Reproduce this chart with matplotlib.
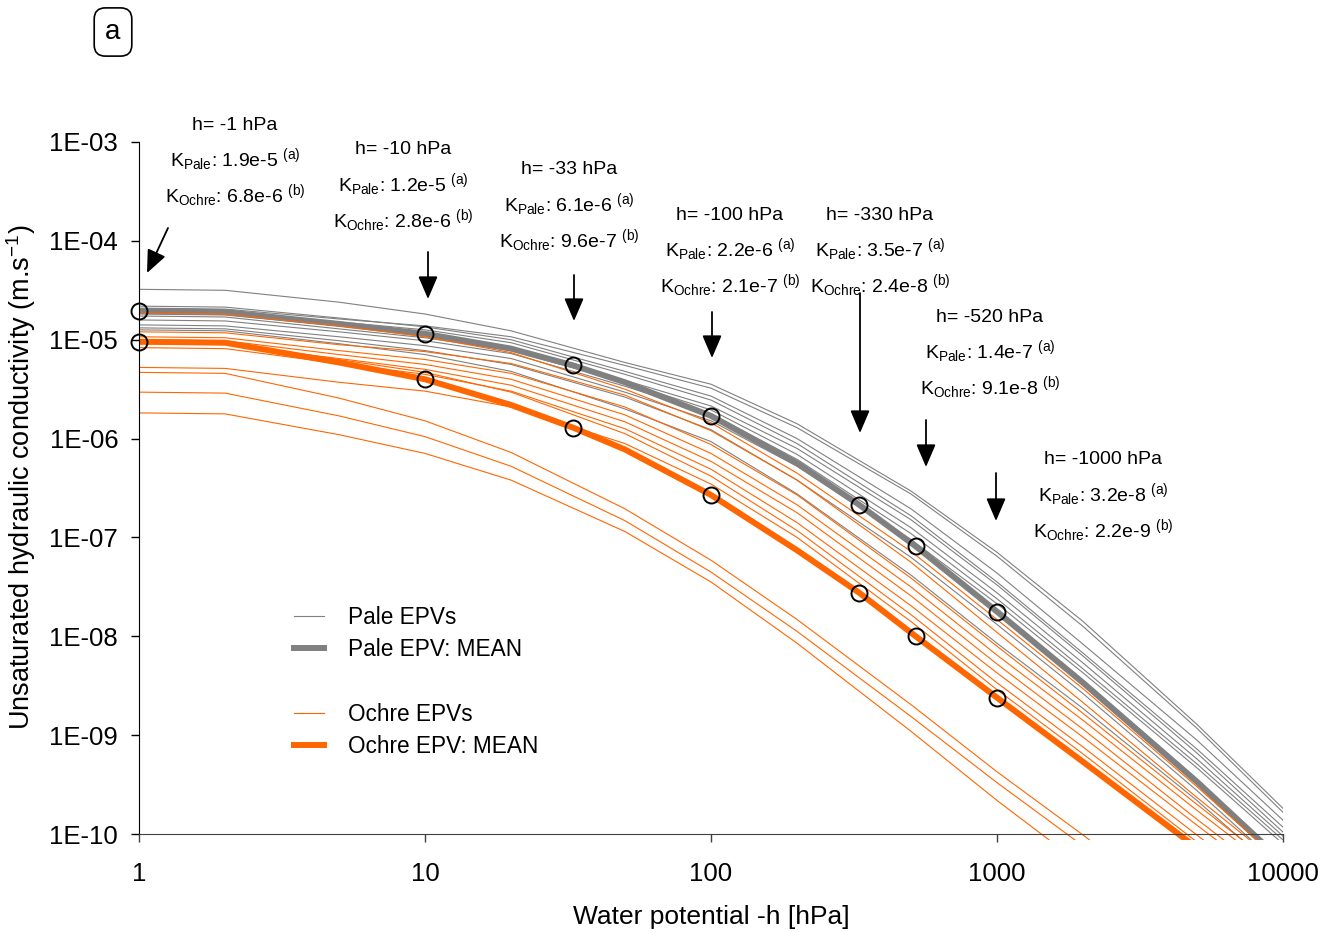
import numpy as np
import matplotlib
matplotlib.use('Agg')
import matplotlib.pyplot as plt
from matplotlib.lines import Line2D

plt.rcParams['font.family'] = ['Liberation Sans', 'DejaVu Sans']
plt.rcParams['mathtext.fontset'] = 'custom'
plt.rcParams['mathtext.rm'] = 'Liberation Sans'
plt.rcParams['mathtext.it'] = 'Liberation Sans:italic'

# water potential -h [hPa] at which the curves were read
h_grid = [1, 2, 5, 10, 20, 50, 100, 200, 500, 1000, 2000, 5000, 10000]
h_mean = [1, 2, 5, 10, 20, 33, 50, 100, 200, 330, 520, 1000, 2000, 5000, 10000]

# log10 K (m/s) of each pale EPV curve
pale_curves = [
    [-4.49, -4.50, -4.62, -4.74, -4.91, -5.23, -5.45, -5.85, -6.53, -7.15, -7.85, -8.89, -9.74],
    [-4.68, -4.69, -4.79, -4.86, -4.97, -5.26, -5.49, -5.89, -6.56, -7.19, -7.90, -8.93, -9.78],
    [-4.66, -4.67, -4.78, -4.87, -5.00, -5.32, -5.57, -6.00, -6.71, -7.36, -8.08, -9.05, -9.86],
    [-4.70, -4.71, -4.82, -4.90, -5.03, -5.35, -5.61, -6.05, -6.78, -7.45, -8.17, -9.14, -9.93],
    [-4.74, -4.75, -4.86, -4.94, -5.07, -5.41, -5.67, -6.10, -6.82, -7.48, -8.20, -9.18, -9.98],
    [-4.76, -4.77, -4.89, -4.98, -5.11, -5.43, -5.71, -6.16, -6.90, -7.56, -8.27, -9.24, -10.02],
    [-4.80, -4.81, -4.92, -5.01, -5.14, -5.47, -5.75, -6.21, -6.96, -7.62, -8.33, -9.29, -10.06],
    [-4.85, -4.86, -4.97, -5.06, -5.19, -5.53, -5.82, -6.28, -7.02, -7.67, -8.37, -9.33, -10.10],
    [-4.88, -4.89, -5.01, -5.11, -5.25, -5.58, -5.91, -6.42, -7.20, -7.88, -8.58, -9.56, -10.35],
    [-4.90, -4.91, -5.04, -5.15, -5.32, -5.70, -6.03, -6.56, -7.38, -8.07, -8.73, -9.66, -10.42],
]

# log10 K (m/s) of each ochre EPV curve
ochre_curves = [
    [-4.73, -4.74, -4.86, -4.97, -5.13, -5.50, -5.84, -6.35, -7.14, -7.83, -8.53, -9.52, -10.30],
    [-4.92, -4.93, -5.05, -5.12, -5.24, -5.56, -5.92, -6.42, -7.25, -7.96, -8.67, -9.63, -10.33],
    [-4.97, -4.98, -5.11, -5.20, -5.34, -5.68, -6.06, -6.57, -7.41, -8.10, -8.78, -9.70, -10.38],
    [-5.00, -5.01, -5.15, -5.25, -5.40, -5.76, -6.15, -6.67, -7.50, -8.19, -8.85, -9.76, -10.43],
    [-5.04, -5.05, -5.19, -5.30, -5.46, -5.83, -6.23, -6.75, -7.59, -8.28, -8.94, -9.85, -10.52],
    [-5.08, -5.09, -5.24, -5.35, -5.52, -5.90, -6.31, -6.85, -7.69, -8.37, -9.02, -9.91, -10.57],
    [-5.02, -5.03, -5.20, -5.33, -5.53, -5.95, -6.38, -6.93, -7.78, -8.47, -9.12, -10.01, -10.68],
    [-5.28, -5.29, -5.43, -5.52, -5.68, -6.05, -6.46, -7.00, -7.85, -8.54, -9.19, -10.08, -10.74],
    [-5.33, -5.34, -5.59, -5.82, -6.14, -6.71, -7.23, -7.83, -8.69, -9.37, -10.01, -10.90, -11.56],
    [-5.53, -5.54, -5.77, -5.98, -6.28, -6.83, -7.35, -7.95, -8.81, -9.48, -10.12, -11.01, -11.67],
    [-5.74, -5.75, -5.96, -6.15, -6.42, -6.94, -7.45, -8.07, -8.96, -9.66, -10.32, -11.22, -11.88],
]

pale_mean = [-4.71, -4.72, -4.84, -4.94, -5.09, -5.26, -5.43, -5.77, -6.25, -6.67, -7.09, -7.75, -8.47, -9.47, -10.28]
ochre_mean = [-5.02, -5.03, -5.23, -5.40, -5.66, -5.89, -6.11, -6.57, -7.13, -7.56, -8.00, -8.62, -9.27, -10.14, -10.80]

# potentials marked with circles and annotated
h_marks = [1, 10, 33, 100, 330, 520, 1000]
k_pale_txt = ['1.9e-5', '1.2e-5', '6.1e-6', '2.2e-6', '3.5e-7', '1.4e-7', '3.2e-8']
k_ochre_txt = ['6.8e-6', '2.8e-6', '9.6e-7', '2.1e-7', '2.4e-8', '9.1e-8', '2.2e-9']

y_ticks = [1e-3, 1e-4, 1e-5, 1e-6, 1e-7, 1e-8, 1e-9, 1e-10]
y_tick_labels = ['1E-03', '1E-04', '1E-05', '1E-06', '1E-07', '1E-08', '1E-09', '1E-10']
x_ticks = [1, 10, 100, 1000, 10000]
x_tick_labels = ['1', '10', '100', '1000', '10000']

GRAY = '#808080'
ORANGE = '#ff6600'
W, H = 1332, 932


def fp(x, y):
    """pixel position in the picture -> figure fraction"""
    return (x / W, 1 - y / H)


fig = plt.figure(figsize=(W / 100, H / 100), dpi=100)
ax = fig.add_axes([139 / W, 1 - 840 / H, (1283 - 139) / W, (840 - 142) / H])

for c in pale_curves:
    ax.plot(h_grid, 10 ** np.array(c), color=GRAY, lw=0.8)
ax.plot(h_mean, 10 ** np.array(pale_mean), color=GRAY, lw=4.3, solid_capstyle='butt')
for c in ochre_curves:
    ax.plot(h_grid, 10 ** np.array(c), color=ORANGE, lw=0.8)
ax.plot(h_mean, 10 ** np.array(ochre_mean), color=ORANGE, lw=4.3, solid_capstyle='butt')

idx = [h_mean.index(h) for h in h_marks]
for m in (pale_mean, ochre_mean):
    ax.plot([h_mean[i] for i in idx], [10 ** m[i] for i in idx], 'o', ms=11.5,
            mfc='none', mec='black', mew=1.4, clip_on=False, zorder=5)

ax.set_xscale('log')
ax.set_yscale('log')
ax.set_xlim(1, 10000)
ax.set_ylim(10 ** -10.06, 1e-3)
ax.spines['top'].set_visible(False)
ax.spines['right'].set_visible(False)
ax.spines['bottom'].set_position(('data', 1e-10))
ax.spines['bottom'].set_color('#404040')
ax.spines['left'].set_bounds(1e-10, 1e-3)
ax.set_yticks(y_ticks)
ax.set_yticklabels(y_tick_labels)
ax.set_xticks(x_ticks)
ax.set_xticklabels(x_tick_labels)
ax.minorticks_off()
ax.tick_params(axis='y', direction='out', length=6, width=1, pad=9, labelsize=18.5)
ax.tick_params(axis='x', direction='out', length=6, width=1, pad=14, labelsize=18.5, color='#404040')
ax.set_xlabel('Water potential -h [hPa]', fontsize=19, labelpad=14)
ax.set_ylabel(r'Unsaturated hydraulic conductivity (m.s$^{\mathregular{-1}}$)', fontsize=19.5)
ax.yaxis.set_label_coords(-0.088, 0.52)

# annotations: pixel centres of the three text lines and of the arrows
text_xy = [(235, 125), (403, 150), (569, 170), (730, 215), (880, 215), (990, 317), (1103, 460)]
arrows = [((168, 228), (147, 273)), ((428, 252), (428, 299)), ((574, 275), (574, 321)),
          ((712, 312), (712, 358)), ((860, 293), (860, 433)), ((926, 420), (926, 467)),
          ((996, 473), (996, 521))]
for i, h in enumerate(h_marks):
    x, y = text_xy[i]
    fig.text(*fp(x, y), f'h= -{h} hPa', ha='center', va='center', fontsize=14)
    fig.text(*fp(x, y + 35), r'K$_{\mathregular{Pale}}$: ' + k_pale_txt[i] + r' $^{\mathregular{(a)}}$',
             ha='center', va='center', fontsize=14)
    fig.text(*fp(x, y + 71), r'K$_{\mathregular{Ochre}}$: ' + k_ochre_txt[i] + r' $^{\mathregular{(b)}}$',
             ha='center', va='center', fontsize=14)
    tail, head = arrows[i]
    ax.annotate('', xy=fp(*head), xytext=fp(*tail), xycoords='figure fraction',
                textcoords='figure fraction',
                arrowprops=dict(arrowstyle='-|>,head_length=0.7,head_width=0.3', color='black',
                                lw=1.3, shrinkA=0, shrinkB=0, mutation_scale=20))

handles = [Line2D([], [], color=GRAY, lw=0.8),
           Line2D([], [], color=GRAY, lw=4.3),
           Line2D([], [], color='none'),
           Line2D([], [], color=ORANGE, lw=0.8),
           Line2D([], [], color=ORANGE, lw=4.3)]
labels = ['Pale EPVs', 'Pale EPV: MEAN', '', 'Ochre EPVs', 'Ochre EPV: MEAN']
fig.legend(handles, labels, loc='upper left', bbox_to_anchor=fp(278, 590), frameon=False,
           fontsize=16.3, handlelength=1.35, handletextpad=1.05, labelspacing=0.41, borderpad=0.2)

fig.text(*fp(113, 32), 'a', ha='center', va='center', fontsize=20,
         bbox=dict(boxstyle='round,pad=0.4,rounding_size=0.4', fc='white', ec='black', lw=1.2))

fig.savefig('out.png', dpi=100)
